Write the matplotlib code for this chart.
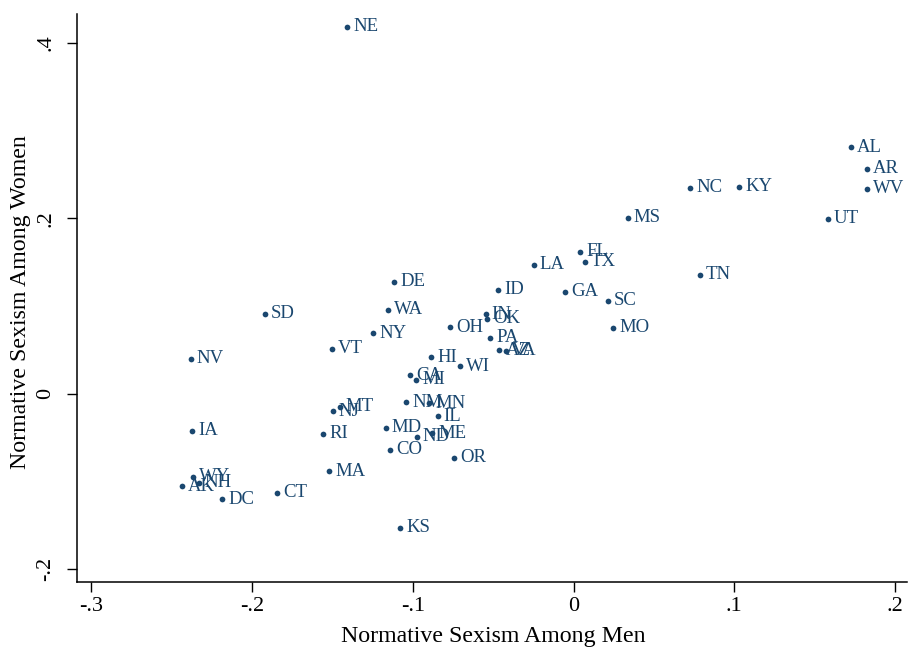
import matplotlib
matplotlib.use("Agg")
import matplotlib.pyplot as plt

states = ["NE", "AL", "AR", "WV", "KY", "NC", "UT", "MS", "FL", "TX", "LA", "TN",
          "ID", "GA", "SC", "MO", "DE", "WA", "IN", "OK", "SD", "NY", "OH", "PA",
          "AZ", "VA", "VT", "NV", "HI", "WI", "CA", "MI", "NM", "MN", "MT", "NJ",
          "IL", "IA", "RI", "MD", "ME", "ND", "CO", "OR", "MA", "WY", "NH", "AK",
          "CT", "DC", "KS"]
men = [-0.1409, 0.1728, 0.1825, 0.1827, 0.1031, 0.0725, 0.1581, 0.0337, 0.0040, 0.0072,
       -0.0248, 0.0787, -0.0470, -0.0053, 0.0215, 0.0248, -0.1116, -0.1152, -0.0546,
       -0.0536, -0.1919, -0.1245, -0.0766, -0.0519, -0.0461, -0.0420, -0.1506, -0.2383,
       -0.0886, -0.0704, -0.1019, -0.0979, -0.1042, -0.0897, -0.1454, -0.1498, -0.0845,
       -0.2373, -0.1558, -0.1170, -0.0880, -0.0975, -0.1141, -0.0743, -0.1521, -0.2366,
       -0.2331, -0.2435, -0.1846, -0.2186, -0.1079]
women = [0.4187, 0.2810, 0.2564, 0.2335, 0.2362, 0.2347, 0.1993, 0.2008, 0.1620, 0.1503,
         0.1468, 0.1354, 0.1183, 0.1160, 0.1061, 0.0750, 0.1278, 0.0958, 0.0905, 0.0856,
         0.0909, 0.0688, 0.0756, 0.0635, 0.0494, 0.0491, 0.0513, 0.0396, 0.0414, 0.0311,
         0.0209, 0.0160, -0.0099, -0.0111, -0.0148, -0.0202, -0.0259, -0.0422, -0.0460,
         -0.0391, -0.0453, -0.0491, -0.0642, -0.0734, -0.0886, -0.0947, -0.1019, -0.1058,
         -0.1129, -0.1206, -0.1529]

xticks = [-0.3, -0.2, -0.1, 0.0, 0.1, 0.2]
xticklabels = ["-.3", "-.2", "-.1", "0", ".1", ".2"]
yticks = [-0.2, 0.0, 0.2, 0.4]
yticklabels = ["-.2", "0", ".2", ".4"]

navy = "#1a476f"
plt.rcParams["font.family"] = ["Liberation Serif", "DejaVu Serif"]

fig = plt.figure(figsize=(9.1, 6.5), dpi=100)
ax = fig.add_axes([77 / 910, (650 - 582) / 650, (907 - 77) / 910, (582 - 14) / 650])

ax.scatter(men, women, s=17, color=navy, zorder=3, linewidths=0)
for s, x, y in zip(states, men, women):
    ax.annotate(s, (x, y), xytext=(4.3, 0), textcoords="offset points",
                ha="left", va="center", fontsize=13.5, color=navy)

ax.set_xlim(-0.309, 0.2075)
ax.set_ylim(-0.215, 0.433)
ax.set_xticks(xticks)
ax.set_xticklabels(xticklabels, fontsize=16)
ax.set_yticks(yticks)
ax.set_yticklabels(yticklabels, fontsize=16, rotation=90, va="center")
ax.tick_params(direction="out", length=7.5, width=1, color="black")
ax.tick_params(axis="x", pad=3)
ax.tick_params(axis="y", pad=8)
for side in ["top", "right"]:
    ax.spines[side].set_visible(False)
for side in ["left", "bottom"]:
    ax.spines[side].set_linewidth(1.1)

ax.set_xlabel("Normative Sexism Among Men", fontsize=17.2)
ax.set_ylabel("Normative Sexism Among Women", fontsize=17.2)
ax.xaxis.set_label_coords(0.501, -0.077)
ax.yaxis.set_label_coords(-0.055, 0.492)

fig.savefig("out.png", dpi=100, facecolor="white")
